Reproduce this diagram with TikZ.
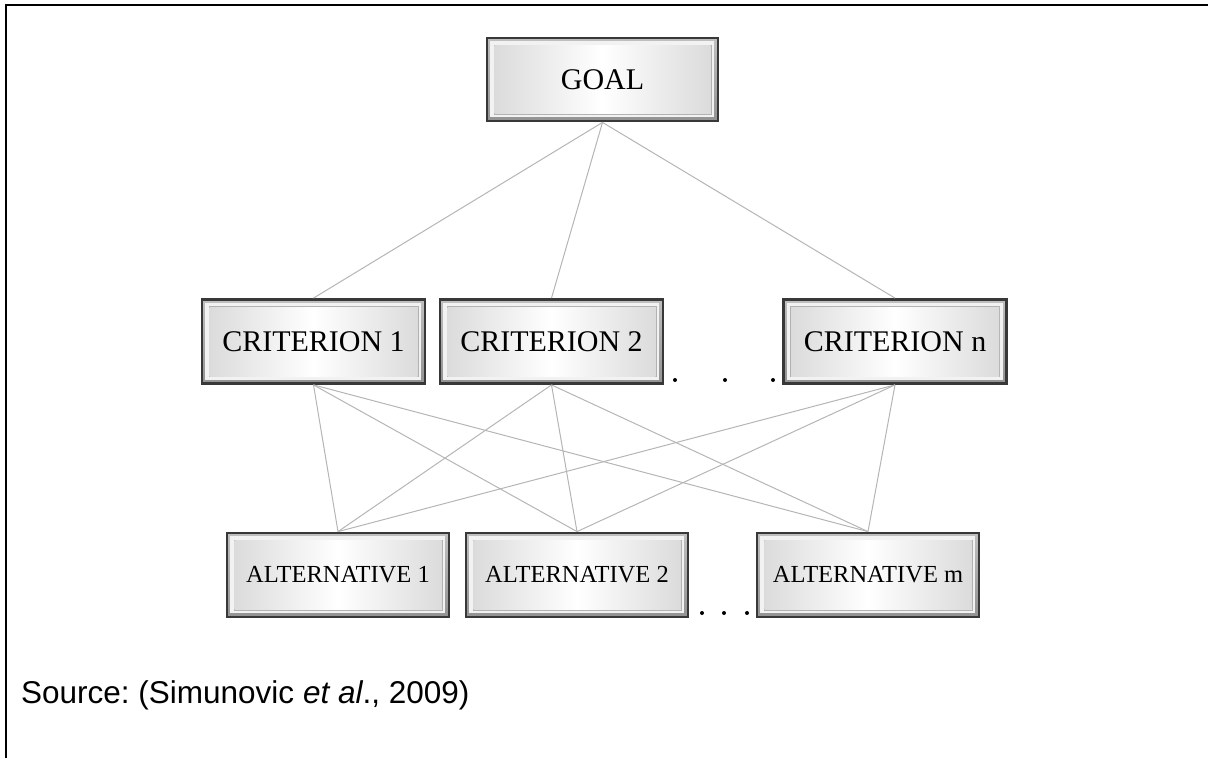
\documentclass[tikz,border=0pt]{standalone}
\usepackage{fontspec}
\setmainfont{Liberation Serif}
\newfontfamily\arialfont{Liberation Sans}
\frenchspacing
\begin{document}
\begin{tikzpicture}[x=1pt,y=-1pt,
  bevel/.style={
    rectangle, inner sep=0pt,
    draw=black!78, line width=2.8pt,
    top color=gray!50, bottom color=gray!85,
    path picture={
      \fill[gray!10]
        ([shift={(3pt,4pt)}]path picture bounding box.south west)
        rectangle ([shift={(-4pt,-3pt)}]path picture bounding box.north east);
      \draw[gray!60, line width=0.7pt]
        ([shift={(7pt,7pt)}]path picture bounding box.south west)
        rectangle ([shift={(-7pt,-7pt)}]path picture bounding box.north east);
      \shade[left color=gray!28, right color=gray!28, middle color=white]
        ([shift={(7.5pt,7.5pt)}]path picture bounding box.south west)
        rectangle ([shift={(-7.5pt,-7.5pt)}]path picture bounding box.north east);
    }},
  toplevel/.style={bevel, minimum width=231pt, minimum height=83pt,
    font=\fontsize{30}{35}\selectfont},
  critbox/.style={bevel, minimum width=223pt, minimum height=84pt,
    font=\fontsize{30}{35}\selectfont},
  altbox/.style={bevel, minimum width=222pt, minimum height=84pt,
    font=\fontsize{24.5}{29}\selectfont},
  link/.style={draw=gray!58, line width=1pt},
  dot/.style={circle, fill=black, inner sep=0pt, minimum size=4pt}
]
\useasboundingbox (0,0) rectangle (1208,758);

% open frame: top and left rules
\draw[line width=2.2pt] (6,758) -- (6,5) -- (1208,5);

% hierarchy levels
\node[toplevel] (goal) at (602.5,79.5) {GOAL};

\node[critbox] (c1) at (313.5,341.5) {CRITERION 1};
\node[critbox] (c2) at (551.5,341.5) {CRITERION 2};
\node[critbox] (cn) at (895,341.5) {CRITERION n};

\node[altbox] (a1) at (338,575) {ALTERNATIVE 1};
\node[altbox] (a2) at (577,575) {ALTERNATIVE 2};
\node[altbox] (am) at (868,575) {ALTERNATIVE m};

% ellipses between boxes
\node[dot] (cd1) at (675,380) {};
\node[dot] (cd2) at (725,380) {};
\node[dot] (cd3) at (773,380) {};
\node[dot] (ad1) at (702,613) {};
\node[dot] (ad2) at (724,613) {};
\node[dot] (ad3) at (747,613) {};

% goal to criteria
\foreach \c in {c1,c2,cn}
  \path[link] (goal.south) -- (\c.north);

% criteria to alternatives
\foreach \c in {c1,c2,cn}
  \foreach \a in {a1,a2,am}
    \path[link] (\c.south) -- (\a.north);

% source note
\node[anchor=base west, inner sep=0pt, font=\arialfont\fontsize{31.5}{36}\selectfont]
  (src) at (21,703) {Source: (Simunovic \textit{et al}., 2009)};
\end{tikzpicture}
\end{document}
